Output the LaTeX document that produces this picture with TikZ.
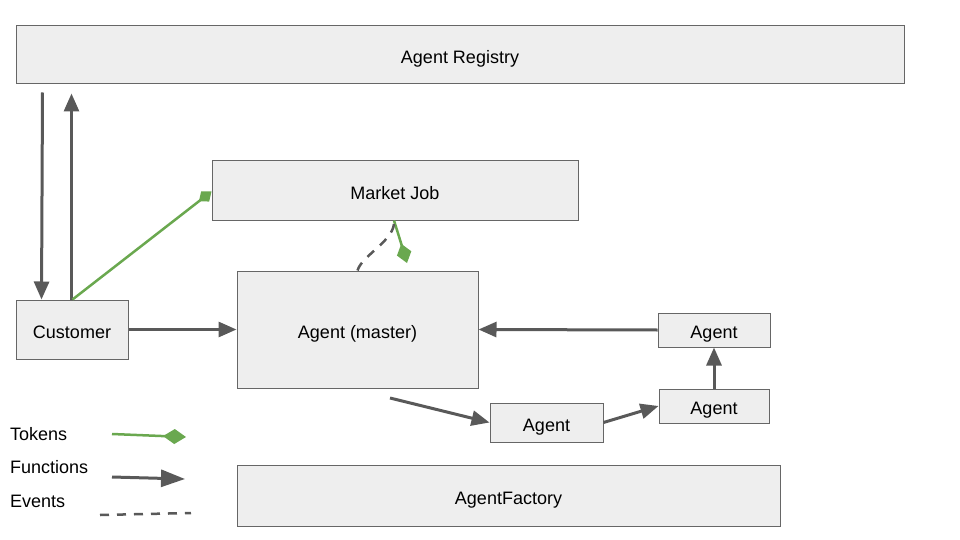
\documentclass[tikz,border=0pt]{standalone}
\usepackage{fontspec}
\setmainfont{Liberation Sans}
\usetikzlibrary{arrows.meta}
\definecolor{boxfill}{HTML}{EEEEEE}
\definecolor{boxline}{HTML}{666666}
\definecolor{fnc}{HTML}{595959}
\definecolor{tokc}{HTML}{6AA84F}
\begin{document}
\begin{tikzpicture}[x=1pt,y=-1pt,
  box/.style={draw=boxline,fill=boxfill,line width=1pt,inner sep=0pt,text height=17pt,text depth=0pt,font=\fontsize{18}{22}\selectfont},
  lbl/.style={anchor=west,inner sep=0pt,font=\fontsize{18}{22}\selectfont},
  fn/.style={draw=fnc,line width=3pt,-{Triangle[length=18pt,width=15pt]}},
  tok/.style={draw=tokc,line width=2.5pt,-{Diamond[length=20pt,width=15pt]}},
  ev/.style={draw=fnc,line width=2.5pt,dash pattern=on 9pt off 8pt}]
\useasboundingbox (0,0) rectangle (960,540);
% boxes
\node[box,minimum width=888pt,minimum height=58pt] (reg) at (460,55) {Agent Registry};
\node[box,minimum width=366pt,minimum height=59pt] (mj) at (395,190.5) {Market Job};
\node[box,minimum width=112pt,minimum height=59pt] (cust) at (72,329.5) {Customer};
\node[box,minimum width=241pt,minimum height=117pt] (am) at (357.5,329.5) {Agent (master)};
\node[box,minimum width=112pt,minimum height=34pt] (a1) at (714,330) {Agent};
\node[box,minimum width=110pt,minimum height=34pt] (a2) at (714,406) {Agent};
\node[box,minimum width=113pt,minimum height=39pt] (a3) at (546.5,422.5) {Agent};
\node[box,minimum width=543pt,minimum height=61pt] (af) at (508.5,495.5) {AgentFactory};
% legend labels
\node[lbl] (lt) at (10,434) {Tokens};
\node[lbl] (lf) at (10,467) {Functions};
\node[lbl] (le) at (10,501) {Events};
% registry <-> customer
\draw[fn] ([shift={(27,8)}]reg.south west) -- ([xshift=26pt]cust.north west);
\draw[fn] ([xshift=56pt]cust.north west) -- ([shift={(56,9)}]reg.south west);
% tokens
\draw[tok,-{Diamond[length=16pt,width=13pt]}] ([xshift=57pt]cust.north west) -- ([yshift=-1pt]mj.west);
\coordinate (tkend) at (407,263);
\coordinate (tkbend) at (401,243);
\draw[tok] ([xshift=-1pt]mj.south) -- (tkbend) -- (tkend);
% event
\draw[ev] (am.north) .. controls (362,255) and (396,240) .. ([xshift=-1pt]mj.south);
% functions
\draw[fn] (cust.east) -- (am.west);
\draw[fn] (a1.west) -- (am.east);
\draw[fn] (a2.north) -- (a1.south);
\coordinate (fs) at (390,398);
\draw[fn] (fs) -- (a3.west);
\draw[fn] (a3.east) -- (a2.west);
% legend lines
\coordinate (lt1) at (112,434); \coordinate (lt2) at (186,437);
\draw[tok,-{Diamond[length=23pt,width=15pt]}] (lt1) -- (lt2);
\coordinate (lf1) at (112,477); \coordinate (lf2) at (185,479);
\draw[fn,-{Triangle[length=24pt,width=17pt]}] (lf1) -- (lf2);
\coordinate (le1) at (100,515); \coordinate (le2) at (191,513);
\draw[ev] (le1) -- (le2);
\end{tikzpicture}
\end{document}
